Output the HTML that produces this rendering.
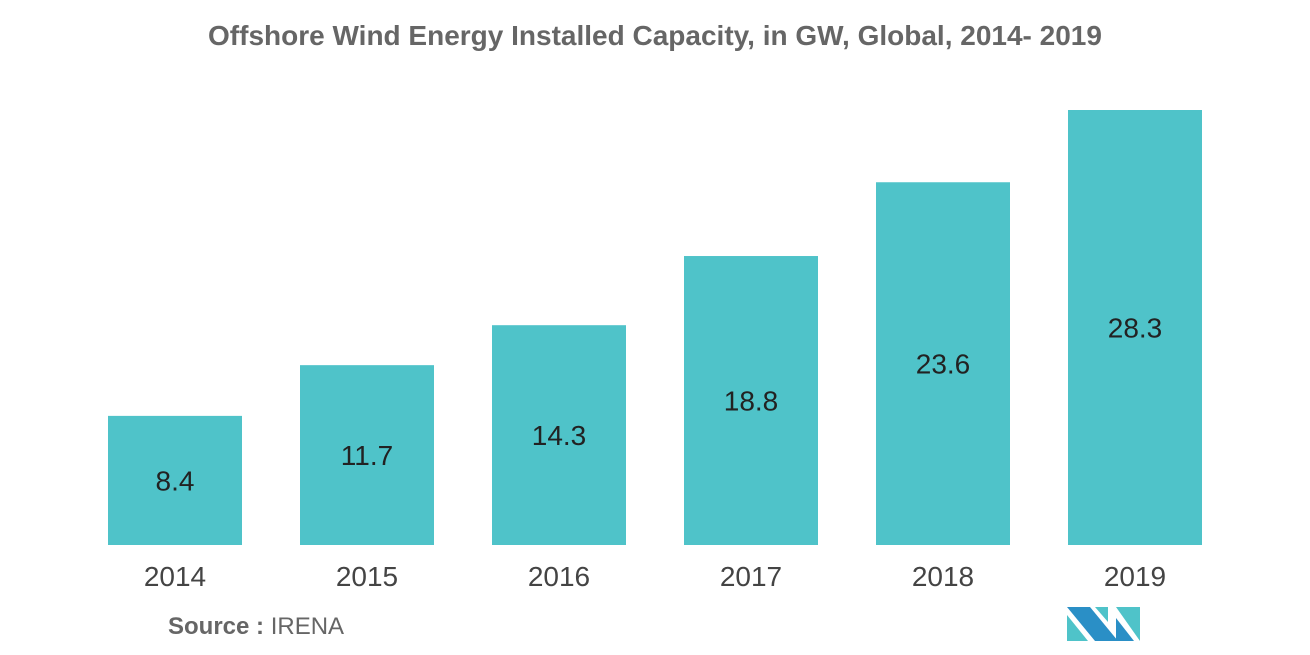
<!DOCTYPE html>
<html><head><meta charset="utf-8"><style>
body{margin:0;background:#fff;}
svg{display:block;font-family:"Liberation Sans",sans-serif;}
</style></head><body>
<svg id="chart" width="1310" height="655">
<text x="655" y="45" text-anchor="middle" font-size="28" font-weight="bold" fill="#666">Offshore Wind Energy Installed Capacity, in GW, Global, 2014- 2019</text>
<g id="bars"></g>
<text x="168" y="634" font-size="24" fill="#666"><tspan font-weight="bold">Source :</tspan> IRENA</text>
<g>
<polygon points="1067,607 1090,607 1118,641 1095,641" fill="#2a8fc6"/>
<polygon points="1067,615 1088,641 1067,641" fill="#4fc3c9"/>
<polygon points="1095,607 1108,607 1108,622" fill="#4fc3c9"/>
<polygon points="1116,607 1140,607 1140,641" fill="#4fc3c9"/>
<polygon points="1116,618 1134,641 1116,641" fill="#2a8fc6"/>
</g>
</svg>
<script>
const categories=["2014","2015","2016","2017","2018","2019"];
const values=[8.4,11.7,14.3,18.8,23.6,28.3];
const baseY=545, maxV=28.3, maxH=435, x0=175, step=192, bw=134;
function y(v){return baseY - v/maxV*maxH;}
function xc(i){return x0+i*step;}
const g=document.getElementById('bars');
const NS="http://www.w3.org/2000/svg";
values.forEach((v,i)=>{
  const r=document.createElementNS(NS,'rect');
  r.setAttribute('x',xc(i)-bw/2);r.setAttribute('y',y(v));
  r.setAttribute('width',bw);r.setAttribute('height',baseY-y(v));
  r.setAttribute('fill','#4fc3c9');
  
  
  g.appendChild(r);
  const t=document.createElementNS(NS,'text');
  t.setAttribute('x',xc(i));t.setAttribute('y',(y(v)+baseY)/2+10);
  t.setAttribute('text-anchor','middle');t.setAttribute('font-size','28');t.setAttribute('fill','#222');
  t.textContent=v.toFixed(1);
  
  
  g.appendChild(t);
  const c=document.createElementNS(NS,'text');
  c.setAttribute('x',xc(i));c.setAttribute('y',586);
  c.setAttribute('text-anchor','middle');c.setAttribute('font-size','28');c.setAttribute('fill','#444');
  c.textContent=categories[i];
  
  
  g.appendChild(c);
});
</script>
</body></html>
